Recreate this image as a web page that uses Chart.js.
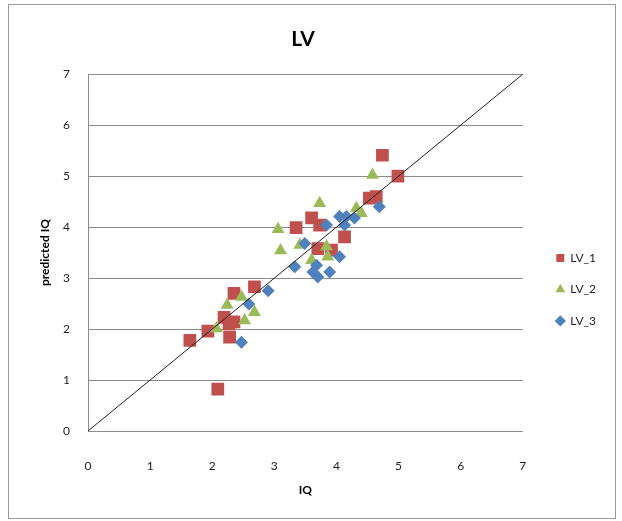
<!DOCTYPE html>
<html>
<head>
<meta charset="utf-8">
<script src="https://cdn.jsdelivr.net/npm/chart.js@4/dist/chart.umd.min.js"></script>
<style>
  body { margin: 0; background: #fff; }
  canvas { display: block; }
</style>
</head>
<body>
<canvas id="lvChart" width="622" height="521"></canvas>
<script>
// series values
const lv1X = [1.64, 1.93, 2.19, 2.27, 2.35, 2.28, 2.35, 2.68, 2.09, 3.35, 3.60, 3.73, 3.70, 3.92, 4.13, 4.53, 4.64, 4.74, 4.99];
const lv1Y = [1.78, 1.96, 2.23, 2.10, 2.14, 1.84, 2.70, 2.83, 0.82, 3.99, 4.18, 4.04, 3.58, 3.55, 3.81, 4.57, 4.60, 5.41, 5.00];

const lv2X = [2.07, 2.24, 2.47, 2.52, 2.68, 3.06, 3.10, 3.41, 3.60, 3.73, 3.84, 3.86, 4.32, 4.40, 4.58];
const lv2Y = [2.01, 2.47, 2.63, 2.17, 2.33, 3.96, 3.54, 3.65, 3.35, 4.47, 3.62, 3.42, 4.37, 4.27, 5.02];

const lv3X = [2.47, 2.59, 2.90, 3.33, 3.49, 3.68, 3.62, 3.70, 3.89, 4.05, 3.84, 4.05, 4.16, 4.13, 4.29, 4.69];
const lv3Y = [1.74, 2.49, 2.75, 3.22, 3.68, 3.25, 3.12, 3.02, 3.12, 3.42, 4.04, 4.21, 4.21, 4.04, 4.18, 4.40];

// y = x reference line
const lineX = [0, 7];
const lineY = [0, 7];

const seriesNames = ['LV_1', 'LV_2', 'LV_3'];
const xTicks = [0, 1, 2, 3, 4, 5, 6, 7];
const yTicks = [0, 1, 2, 3, 4, 5, 6, 7];

function pts(xs, ys) {
    return xs.map((x, i) => ({ x: x, y: ys[i] }));
}

Chart.defaults.font.family = 'Lato, "Open Sans", sans-serif';
Chart.defaults.color = '#222';

// white background and outer frame
const frame = {
    id: 'frame',
    beforeDraw(chart) {
        const c = chart.ctx;
        c.save();
        c.fillStyle = '#fff';
        c.fillRect(0, 0, chart.width, chart.height);
        c.strokeStyle = '#9a9a9a';
        c.lineWidth = 1;
        c.strokeRect(8.5, 4.5, 607, 514);
        c.restore();
    }
};

let ctx = document.getElementById('lvChart').getContext('2d');

let lvChart = new Chart(ctx, {
    type: 'scatter',
    data: {
        datasets: [{
            label: seriesNames[0],
            data: pts(lv1X, lv1Y),
            backgroundColor: '#C0504D',
            borderColor: '#C0504D',
            pointStyle: 'rect',
            pointRadius: 9,
            borderWidth: 0,
            order: 3
        }, {
            label: seriesNames[1],
            data: pts(lv2X, lv2Y),
            backgroundColor: '#9BBB59',
            borderColor: '#9BBB59',
            pointStyle: 'triangle',
            pointRadius: 7.5,
            borderWidth: 0,
            order: 2
        }, {
            label: seriesNames[2],
            data: pts(lv3X, lv3Y),
            backgroundColor: '#4F81BD',
            borderColor: '#4F81BD',
            pointStyle: 'rectRot',
            pointRadius: 6.5,
            borderWidth: 0,
            order: 1
        }, {
            label: 'diag',
            data: pts(lineX, lineY),
            showLine: true,
            borderColor: '#222',
            borderWidth: 1,
            pointRadius: 0,
            order: 0
        }]
    },
    options: {
        responsive: false,
        animation: false,
        devicePixelRatio: 1,
        layout: { padding: { left: 0, right: 16, top: 0, bottom: 0 } },
        plugins: {
            tooltip: { enabled: false },
            title: {
                display: true,
                text: 'LV',
                color: '#000',
                font: { size: 21, weight: 'bold' },
                padding: { top: 27, bottom: 22 }
            },
            legend: {
                position: 'right',
                align: 'start',
                maxWidth: 85,
                title: { display: true, text: ' ', padding: { top: 218, bottom: 0 } },
                labels: {
                    usePointStyle: true,
                    boxWidth: 8,
                    boxHeight: 8,
                    padding: 19.5,
                    color: '#222',
                    font: { size: 12 },
                    filter: (item) => item.text !== 'diag',
                    sort: (a, b) => a.datasetIndex - b.datasetIndex
                }
            }
        },
        scales: {
            x: {
                type: 'linear',
                min: 0,
                max: 7,
                afterFit: (s) => { s.height = 90; },
                afterBuildTicks: (s) => { s.ticks = xTicks.map(v => ({ value: v })); },
                grid: { display: false },
                border: { display: false },
                ticks: { padding: 20, font: { size: 12 }, color: '#222' },
                title: {
                    display: true,
                    text: 'IQ',
                    color: '#000',
                    font: { size: 12, weight: 'bold' },
                    padding: { top: 0, bottom: 24 }
                }
            },
            y: {
                type: 'linear',
                min: 0,
                max: 7,
                afterFit: (s) => { s.width = 88; },
                afterBuildTicks: (s) => { s.ticks = yTicks.map(v => ({ value: v })); },
                grid: { color: '#8c8c8c', lineWidth: 1, drawTicks: false },
                border: { display: true, color: '#8c8c8c' },
                ticks: { padding: 18, font: { size: 12 }, color: '#222' },
                title: {
                    display: true,
                    text: 'predicted IQ',
                    color: '#000',
                    font: { size: 12, weight: 'bold' },
                    padding: { top: 38, bottom: 0 }
                }
            },
            gap: {
                type: 'linear',
                position: 'right',
                display: true,
                afterFit: (s) => { s.width = 14; },
                grid: { display: false },
                border: { display: false },
                ticks: { display: false }
            }
        }
    },
    plugins: [frame]
});
</script>
</body>
</html>
